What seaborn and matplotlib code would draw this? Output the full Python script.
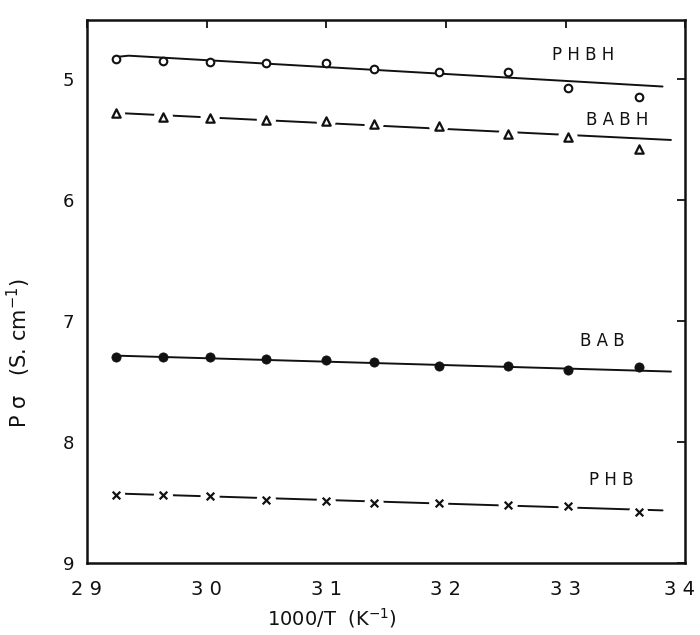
import matplotlib
matplotlib.use("Agg")
import matplotlib.pyplot as plt
import matplotlib.transforms as mtransforms
import seaborn as sns
import pandas as pd

# 1000/T values (K^-1) shared by all four samples
inv_t = [2.924, 2.964, 3.003, 3.050, 3.100, 3.140, 3.194, 3.252, 3.302, 3.361]

# p-sigma readings for each sample
phbh = [4.835, 4.846, 4.857, 4.863, 4.868, 4.912, 4.942, 4.937, 5.069, 5.144]
babh = [5.281, 5.314, 5.320, 5.336, 5.345, 5.369, 5.386, 5.455, 5.474, 5.579]
bab = [7.298, 7.293, 7.298, 7.314, 7.320, 7.342, 7.369, 7.369, 7.402, 7.383]
phb = [8.436, 8.441, 8.450, 8.477, 8.491, 8.504, 8.504, 8.518, 8.532, 8.582]

# hand-drawn fit lines (end points)
phbh_fit_x = [2.925, 2.935, 3.381]
phbh_fit_y = [4.815, 4.805, 5.060]
babh_fit_x = [2.930, 3.388]
babh_fit_y = [5.281, 5.502]
bab_fit_x = [2.923, 3.388]
bab_fit_y = [7.285, 7.417]
phb_fit_x = [2.930, 3.381]
phb_fit_y = [8.427, 8.565]

x_ticks = [2.9, 3.0, 3.1, 3.2, 3.3, 3.4]
x_tick_labels = ["2 9", "3 0", "3 1", "3 2", "3 3", "3 4"]
y_ticks = [5, 6, 7, 8, 9]
y_tick_labels = ["5", "6", "7", "8", "9"]

sns.set_theme(style="white")
plt.rcParams["font.family"] = ["DejaVu Sans"]
plt.rcParams["xtick.direction"] = "in"
plt.rcParams["ytick.direction"] = "in"

fig = plt.figure(figsize=(7.0, 6.35), dpi=100)
ax = fig.add_axes([0.124, 0.1134, 0.855, 0.8551])

ink = "#111111"

fits = [
    (phbh_fit_x, phbh_fit_y),
    (babh_fit_x, babh_fit_y),
    (bab_fit_x, bab_fit_y),
    (phb_fit_x, phb_fit_y),
]
for fx, fy in fits:
    sns.lineplot(x=fx, y=fy, ax=ax, color=ink, lw=1.4, sort=False,
                 estimator=None, zorder=2)

df = pd.DataFrame({"x": inv_t, "PHBH": phbh, "BABH": babh, "BAB": bab, "PHB": phb})

# white halos so the BABH and PHB lines break around their markers
for col in ["BABH", "PHB"]:
    sns.scatterplot(data=df, x="x", y=col, ax=ax, marker="o", s=190,
                    color="white", edgecolor="none", zorder=3)

sns.scatterplot(data=df, x="x", y="PHBH", ax=ax, marker="o", s=30,
                facecolor="white", edgecolor=ink, linewidth=1.5, zorder=4)
sns.scatterplot(data=df, x="x", y="BABH", ax=ax, marker="^", s=36,
                facecolor="white", edgecolor=ink, linewidth=1.6, zorder=4)
sns.scatterplot(data=df, x="x", y="BAB", ax=ax, marker="o", s=44,
                color=ink, edgecolor=ink, zorder=4)
sns.scatterplot(data=df, x="x", y="PHB", ax=ax, marker="x", s=30,
                color=ink, linewidth=1.6, zorder=4)

label_style = dict(fontsize=12, color=ink, ha="center", va="center")
ax.text(3.315, 4.80, "P H B H", **label_style)
ax.text(3.343, 5.335, "B A B H", **label_style)
ax.text(3.331, 7.168, "B A B", **label_style)
ax.text(3.338, 8.31, "P H B", **label_style)

ax.set_xlim(2.9, 3.4)
ax.set_ylim(9.0, 4.51)
ax.set_xticks(x_ticks)
ax.set_xticklabels(x_tick_labels)
ax.set_yticks(y_ticks)
ax.set_yticklabels(y_tick_labels)
ax.tick_params(axis="both", which="both", top=True, right=True, length=6,
               width=1.3, color=ink, labelcolor=ink)
ax.tick_params(axis="x", labelsize=14, pad=12)
ax.tick_params(axis="y", labelsize=13, pad=9)

# pull the "3 4" label a little left, as in the original
last = ax.get_xticklabels()[-1]
last.set_transform(last.get_transform()
                   + mtransforms.ScaledTranslation(-4 / 72, 0, fig.dpi_scale_trans))

for side in ["left", "right", "top", "bottom"]:
    ax.spines[side].set_color(ink)
    ax.spines[side].set_linewidth(1.8)

ax.set_xlabel("1000/T  (K$^{-1}$)", fontsize=14, color=ink)
ax.set_ylabel("P σ   (S. cm$^{-1}$)", fontsize=15, color=ink)
ax.xaxis.set_label_coords(0.41, -0.08)
ax.yaxis.set_label_coords(-0.09, 0.387)

fig.savefig("out.png", dpi=100)
